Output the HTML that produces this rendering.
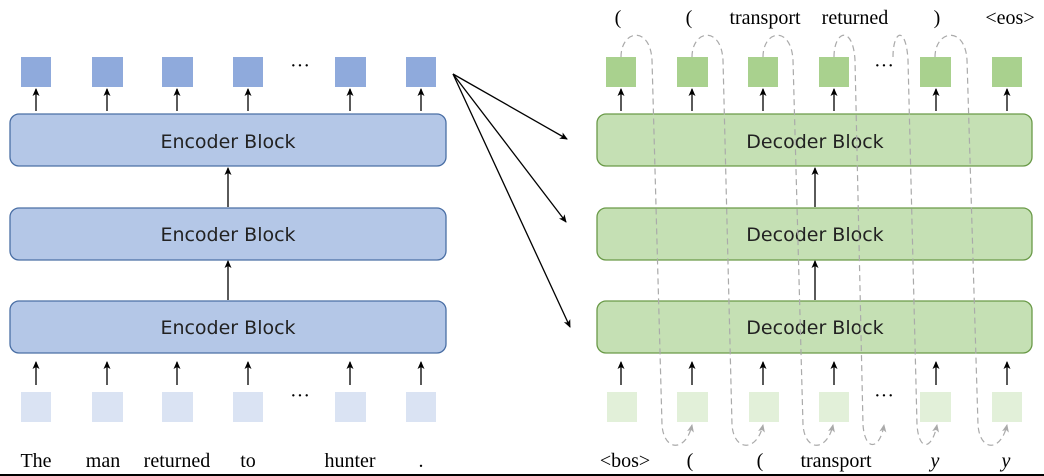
<!DOCTYPE html>
<html><head><meta charset="utf-8"><style>
html,body{margin:0;padding:0;background:#fff;}
svg{display:block}
.s{font-family:"Liberation Serif",serif;font-size:20px;fill:#000}
.b{font-family:"DejaVu Sans","Liberation Sans",sans-serif;font-size:19px;fill:#222}
</style></head><body>
<svg width="1044" height="476" viewBox="0 0 1044 476" xmlns="http://www.w3.org/2000/svg">
<defs>
<marker id="a" markerWidth="8" markerHeight="8" refX="7" refY="4" orient="auto" markerUnits="userSpaceOnUse"><path d="M0,0.5 L8,4 L0,7.5 L2,4z" fill="#000"/></marker>
<marker id="g" markerWidth="8" markerHeight="8" refX="7" refY="4" orient="auto" markerUnits="userSpaceOnUse"><path d="M0,0.5 L8,4 L0,7.5 L2,4z" fill="#aaa"/></marker>
</defs>
<!-- encoder blocks -->
<g fill="#b4c7e7" stroke="#4a6fa5" stroke-width="1.3">
<rect x="10" y="114" width="436" height="52" rx="9"/>
<rect x="10" y="208" width="436" height="52" rx="9"/>
<rect x="10" y="301" width="436" height="52" rx="9"/>
</g>
<g fill="#c5e0b4" stroke="#6a9a48" stroke-width="1.3">
<rect x="597" y="114" width="435" height="52" rx="9"/>
<rect x="597" y="208" width="435" height="52" rx="9"/>
<rect x="597" y="301" width="435" height="52" rx="9"/>
</g>
<g class="b" text-anchor="middle">
<text x="228" y="148">Encoder Block</text>
<text x="228" y="241">Encoder Block</text>
<text x="228" y="334">Encoder Block</text>
<text x="815" y="148">Decoder Block</text>
<text x="815" y="241">Decoder Block</text>
<text x="815" y="334">Decoder Block</text>
</g>
<!-- squares -->
<g fill="#8faadc">
<rect x="21" y="57" width="30" height="30"/><rect x="92" y="57" width="31" height="30"/><rect x="162" y="57" width="31" height="30"/><rect x="233" y="57" width="30" height="30"/><rect x="335" y="57" width="31" height="30"/><rect x="406" y="57" width="30" height="30"/>
</g>
<g fill="#dae3f3">
<rect x="21" y="392" width="30" height="30"/><rect x="92" y="392" width="31" height="30"/><rect x="162" y="392" width="31" height="30"/><rect x="233" y="392" width="30" height="30"/><rect x="335" y="392" width="31" height="30"/><rect x="406" y="392" width="30" height="30"/>
</g>
<g fill="#a9d18e">
<rect x="606" y="57" width="30" height="30"/><rect x="677" y="57" width="31" height="30"/><rect x="748" y="57" width="30" height="30"/><rect x="819" y="57" width="30" height="30"/><rect x="920" y="57" width="31" height="30"/><rect x="992" y="57" width="30" height="30"/>
</g>
<g fill="#e2f0d9">
<rect x="607" y="392" width="30" height="30"/><rect x="677" y="392" width="31" height="30"/><rect x="749" y="392" width="30" height="30"/><rect x="819" y="392" width="30" height="30"/><rect x="920" y="392" width="31" height="30"/><rect x="992" y="392" width="30" height="30"/>
</g>
<g class="s" text-anchor="middle" font-size="14">
<text x="300" y="72">···</text><text x="300" y="402">···</text>
<text x="884" y="72">···</text><text x="884" y="402">···</text>
</g>
<!-- arrows -->
<g stroke="#000" stroke-width="1.3" marker-end="url(#a)">
<line x1="36" y1="111" x2="36" y2="89"/><line x1="107" y1="111" x2="107" y2="89"/><line x1="177" y1="111" x2="177" y2="89"/><line x1="248" y1="111" x2="248" y2="89"/><line x1="350" y1="111" x2="350" y2="89"/><line x1="421" y1="111" x2="421" y2="89"/>
<line x1="36" y1="385" x2="36" y2="362"/><line x1="107" y1="385" x2="107" y2="362"/><line x1="177" y1="385" x2="177" y2="362"/><line x1="248" y1="385" x2="248" y2="362"/><line x1="350" y1="385" x2="350" y2="362"/><line x1="421" y1="385" x2="421" y2="362"/>
<line x1="621" y1="111" x2="621" y2="89"/><line x1="692" y1="111" x2="692" y2="89"/><line x1="763" y1="111" x2="763" y2="89"/><line x1="834" y1="111" x2="834" y2="89"/><line x1="936" y1="111" x2="936" y2="89"/><line x1="1007" y1="111" x2="1007" y2="89"/>
<line x1="621" y1="385" x2="621" y2="362"/><line x1="692" y1="385" x2="692" y2="362"/><line x1="763" y1="385" x2="763" y2="362"/><line x1="834" y1="385" x2="834" y2="362"/><line x1="936" y1="385" x2="936" y2="362"/><line x1="1007" y1="385" x2="1007" y2="362"/>
<line x1="228" y1="207" x2="228" y2="168"/><line x1="228" y1="300" x2="228" y2="261"/>
<line x1="815" y1="207" x2="815" y2="168"/><line x1="815" y1="300" x2="815" y2="261"/>
<line x1="453" y1="74" x2="567" y2="139"/>
<line x1="453" y1="74" x2="566" y2="222"/>
<line x1="453" y1="74" x2="570" y2="327"/>
</g>
<!-- dashed loops -->
<g fill="none" stroke="#aaa" stroke-width="1.2" stroke-dasharray="6,4" marker-end="url(#g)">
<path d="M621,57 C621,30 650,25 652,60 L662,425 C664,452 686,452 692,425"/>
<path d="M692,57 C692,30 721,25 723,60 L732,425 C734,452 757,452 763,425"/>
<path d="M763,57 C763,30 791,25 793,60 L803,425 C805,452 827,452 833,425"/>
<path d="M834,57 C834,30 853,25 855,60 L863,425 C865,452 880,450 884,425"/>
<path d="M893,57 C893,30 906,25 908,60 L917,425 C919,452 932,450 937,425"/>
<path d="M935,57 C935,30 965,25 967,60 L978,425 C980,452 1001,452 1007,425"/>
</g>
<!-- text -->
<g class="s" text-anchor="middle">
<text x="618" y="24">(</text><text x="689" y="24">(</text><text x="765" y="24">transport</text><text x="855" y="24">returned</text><text x="937" y="24">)</text><text x="1010" y="24">&lt;eos&gt;</text>
<text x="625" y="467">&lt;bos&gt;</text><text x="690" y="467">(</text><text x="760" y="467">(</text><text x="836" y="467">transport</text><text x="935" y="467" font-style="italic">y</text><text x="1006" y="467" font-style="italic">y</text>
<text x="36" y="467">The</text><text x="103" y="467">man</text><text x="177" y="467">returned</text><text x="248" y="467">to</text><text x="350" y="467">hunter</text><text x="421" y="467">.</text>
</g>
<line x1="0" y1="475" x2="1044" y2="475" stroke="#000" stroke-width="2"/>
</svg>
</body></html>
